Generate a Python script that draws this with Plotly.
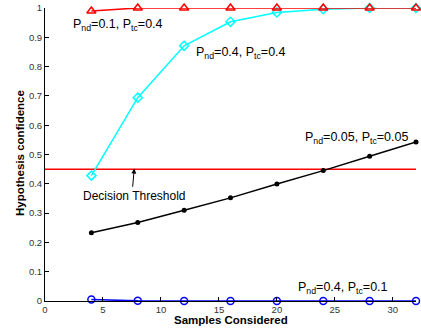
import plotly.graph_objects as go

samples = [4, 8, 12, 16, 20, 24, 28, 32]
conf_01_04 = [0.99, 1.0, 1.0, 1.0, 1.0, 1.0, 1.0, 1.0]
conf_04_04 = [0.428, 0.694, 0.871, 0.953, 0.985, 0.996, 1.0, 1.0]
conf_005_005 = [0.233, 0.268, 0.31, 0.352, 0.399, 0.445, 0.494, 0.543]
conf_04_01 = [0.005, 0.0005, 0.0, 0.0, 0.0, 0.0, 0.0, 0.0]
threshold_x = [0, 32]
threshold_y = [0.45, 0.45]

FONT = "Liberation Sans, Arial, sans-serif"

fig = go.Figure()
fig.add_trace(go.Scatter(x=threshold_x, y=threshold_y, mode="lines",
                         line=dict(color="#ff0000", width=1.5), cliponaxis=False))
fig.add_trace(go.Scatter(x=samples, y=conf_04_04, mode="lines+markers",
                         line=dict(color="#00ffff", width=1.5),
                         marker=dict(symbol="diamond-open", size=7, color="#00ffff",
                                     line=dict(width=1.5)), cliponaxis=False))
fig.add_trace(go.Scatter(x=samples, y=conf_01_04, mode="lines+markers",
                         line=dict(color="#ff0000", width=1.5),
                         marker=dict(symbol="triangle-up-open", size=8, color="#ff0000",
                                     line=dict(width=1.5)), cliponaxis=False))
fig.add_trace(go.Scatter(x=samples, y=conf_005_005, mode="lines+markers",
                         line=dict(color="#000000", width=1.5),
                         marker=dict(symbol="circle", size=5, color="#000000"),
                         cliponaxis=False))
fig.add_trace(go.Scatter(x=samples, y=conf_04_01, mode="lines+markers",
                         line=dict(color="#0000ff", width=1.5),
                         marker=dict(symbol="circle-open", size=7, color="#0000ff",
                                     line=dict(width=1.5)), cliponaxis=False))

ann_font = dict(family=FONT, size=12.5, color="#000000")
annotations = [
    dict(x=2.33, y=0.943, text="P<sub>nd</sub>=0.1, P<sub>tc</sub>=0.4"),
    dict(x=12.93, y=0.848, text="P<sub>nd</sub>=0.4, P<sub>tc</sub>=0.4"),
    dict(x=22.33, y=0.558, text="P<sub>nd</sub>=0.05, P<sub>tc</sub>=0.05"),
    dict(x=21.72, y=0.043, text="P<sub>nd</sub>=0.4, P<sub>tc</sub>=0.1"),
]
for a in annotations:
    fig.add_annotation(x=a["x"], y=a["y"], text=a["text"], showarrow=False,
                       xanchor="left", yanchor="middle", font=ann_font,
                       xref="x", yref="y", borderpad=0)
fig.add_annotation(x=3.19, y=0.358, text="Decision Threshold", showarrow=False,
                   xanchor="left", yanchor="middle", borderpad=0,
                   font=dict(family=FONT, size=12, color="#000000"),
                   xref="x", yref="y")
fig.add_annotation(x=7.7, y=0.452, ax=7.55, ay=0.385, axref="x", ayref="y",
                   xref="x", yref="y", text="", showarrow=True,
                   arrowhead=2, arrowsize=1, arrowwidth=1, arrowcolor="#000000")

# axis titles placed as paper annotations (given in pixels, converted below)
fig.add_annotation(x=231, y=320, xref="paper", yref="paper", text="<b>Samples Considered</b>",
                   showarrow=False, font=dict(family=FONT, size=11.5, color="#000000"),
                   xanchor="center", yanchor="middle", borderpad=0)
fig.add_annotation(x=20, y=153, xref="paper", yref="paper", text="<b>Hypothesis confidence</b>",
                   showarrow=False, textangle=-90, font=dict(family=FONT, size=11.5, color="#000000"),
                   xanchor="center", yanchor="middle", borderpad=0)

axis_common = dict(showline=True, linecolor="#000000", linewidth=1,
                   ticks="inside", ticklen=4, tickcolor="#000000",
                   showgrid=False, zeroline=False, mirror=False, automargin=False,
                   tickfont=dict(family=FONT, size=9.5, color="#333333"))

W, H = 421, 330
ML, MR, MT, MB = 45, 5, 8, 29

for ann in fig.layout.annotations:
    if ann.xref == "paper":
        ann.x = (ann.x - ML) / (W - ML - MR)
        ann.y = 1 - (ann.y - MT) / (H - MT - MB)

fig.update_layout(
    width=W, height=H,
    margin=dict(l=ML, r=MR, t=MT, b=MB, autoexpand=False),
    paper_bgcolor="white", plot_bgcolor="white",
    showlegend=False,
    xaxis=dict(range=[0, 32], tickvals=[0, 5, 10, 15, 20, 25, 30], **axis_common),
    yaxis=dict(range=[0, 1], tickvals=[0, 0.1, 0.2, 0.3, 0.4, 0.5, 0.6, 0.7, 0.8, 0.9, 1],
               ticktext=["0", "0.1", "0.2", "0.3", "0.4", "0.5", "0.6", "0.7", "0.8", "0.9", "1"],
               **axis_common),
)

fig.write_html("out.html")
